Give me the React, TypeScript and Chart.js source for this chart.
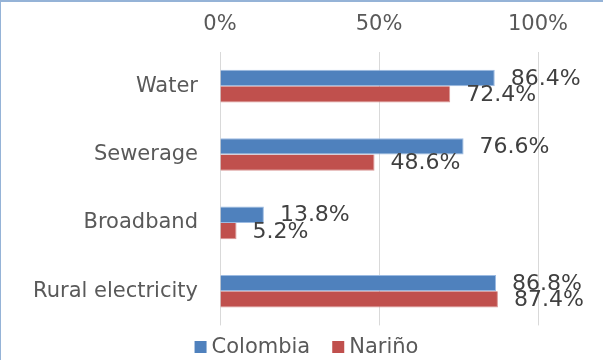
import React, { useEffect, useRef } from "react";
import { Chart, registerables } from "chart.js";

Chart.register(...registerables);

// Coverage of basic services (%)
const categories = ["Water", "Sewerage", "Broadband", "Rural electricity"];
const colombia = [86.4, 76.6, 13.8, 86.8];
const narino = [72.4, 48.6, 5.2, 87.4];
const seriesNames = ["Colombia", "Nariño"];
const seriesColors = ["#4F81BD", "#C0504D"];
const seriesEdges = ["#9CBBE2", "#D99694"];
const xTickStep = 50;
const xMax = 100;

const FONT = "'DejaVu Sans', Verdana, sans-serif";
const FONT_SIZE = 21;
const LABEL_SIZE = 22;

// Percentage labels drawn just past the end of each bar
const valueLabels = {
  id: "valueLabels",
  afterDatasetsDraw(chart: any) {
    const ctx = chart.ctx;
    ctx.save();
    ctx.font = `${LABEL_SIZE}px ${FONT}`;
    ctx.fillStyle = "#404040";
    ctx.textAlign = "left";
    ctx.textBaseline = "middle";
    chart.data.datasets.forEach((ds: any, i: number) => {
      const meta = chart.getDatasetMeta(i);
      meta.data.forEach((el: any, j: number) => {
        const v = ds.data[j] as number;
        ctx.fillText(v.toFixed(1) + "%", el.x + 16, el.y + 1);
      });
    });
    ctx.restore();
  },
};

// Legend with square swatches under the plot
const bottomLegend = {
  id: "bottomLegend",
  afterDraw(chart: any) {
    const ctx = chart.ctx;
    ctx.save();
    ctx.font = `${FONT_SIZE}px ${FONT}`;
    const box = 12;
    const gapText = 5;
    const gapItem = 22;
    const items = chart.data.datasets.map((ds: any) => ({
      label: ds.label as string,
      color: ds.backgroundColor as string,
      w: ctx.measureText(ds.label).width,
    }));
    const total =
      items.reduce((s: number, it: any) => s + box + gapText + it.w, 0) +
      gapItem * (items.length - 1);
    let x = chart.width / 2 + 5 - total / 2;
    const cy = 347;
    items.forEach((it: any) => {
      ctx.fillStyle = it.color;
      ctx.fillRect(x, cy - box / 2, box, box);
      x += box + gapText;
      ctx.fillStyle = "#595959";
      ctx.textAlign = "left";
      ctx.textBaseline = "middle";
      ctx.fillText(it.label, x, cy + 1);
      x += it.w + gapItem;
    });
    ctx.restore();
  },
};

export default function App() {
  const canvasRef = useRef<HTMLCanvasElement | null>(null);

  useEffect(() => {
    document.body.style.margin = "0";
    const canvas = canvasRef.current;
    if (!canvas) return;
    const chart = new Chart(canvas, {
      type: "bar",
      data: {
        labels: categories,
        datasets: [
          {
            label: seriesNames[0],
            data: colombia,
            backgroundColor: seriesColors[0],
            borderColor: seriesEdges[0],
            borderWidth: 1,
            barPercentage: 1,
            categoryPercentage: 0.478,
          },
          {
            label: seriesNames[1],
            data: narino,
            backgroundColor: seriesColors[1],
            borderColor: seriesEdges[1],
            borderWidth: { top: 0, right: 1, bottom: 1, left: 1 },
            barPercentage: 1,
            categoryPercentage: 0.478,
          },
        ],
      },
      options: {
        indexAxis: "y",
        responsive: false,
        animation: false,
        devicePixelRatio: 1,
        layout: { padding: { top: 0, left: 0, right: 65, bottom: 32 } },
        plugins: {
          legend: { display: false },
          tooltip: { enabled: false },
        },
        scales: {
          x: {
            position: "top",
            min: 0,
            max: xMax,
            afterFit(scale: any) {
              scale.height = 52;
            },
            ticks: {
              stepSize: xTickStep,
              padding: 15,
              color: "#595959",
              font: { family: FONT, size: FONT_SIZE },
              callback: (v: any) => v + "%",
            },
            grid: { color: "#D9D9D9", lineWidth: 1, drawTicks: false },
            border: { display: false },
          },
          y: {
            afterFit(scale: any) {
              scale.width = 220;
            },
            ticks: {
              padding: 22,
              color: "#595959",
              font: { family: FONT, size: FONT_SIZE },
            },
            grid: { display: false, drawTicks: false },
            border: { display: false },
          },
        },
      },
      plugins: [valueLabels, bottomLegend],
    });
    return () => chart.destroy();
  }, []);

  return (
    <div style={{ position: "fixed", left: 0, top: 0, width: 603, height: 360, background: "#fff" }}>
      <canvas ref={canvasRef} width={603} height={360} style={{ display: "block" }} />
      <div
        style={{
          position: "absolute",
          left: 0,
          top: 0,
          width: 603,
          height: 360,
          boxSizing: "border-box",
          borderTop: "2px solid #95B3D7",
          borderLeft: "1px solid #95B3D7",
          pointerEvents: "none",
        }}
      />
    </div>
  );
}
